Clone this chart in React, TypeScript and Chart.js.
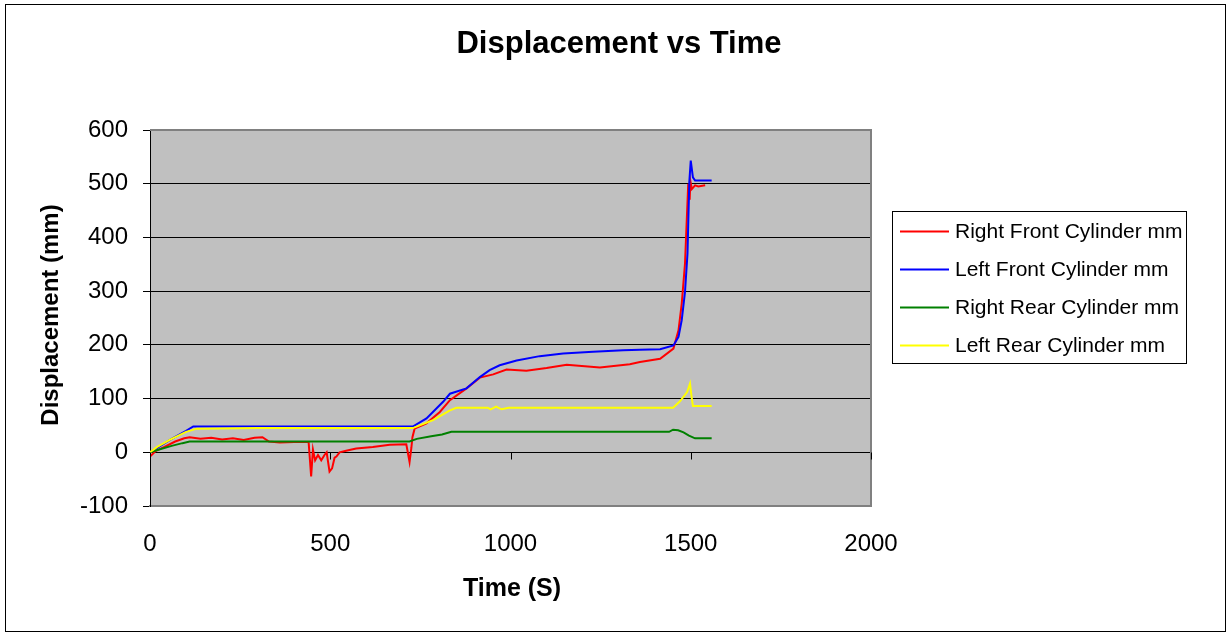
import React, { useEffect, useRef } from "react";
import { Chart, registerables } from "chart.js";

Chart.register(...registerables);

const W = 1231;
const H = 636;

const seriesNames = [
  "Right Front Cylinder mm",
  "Left Front Cylinder mm",
  "Right Rear Cylinder mm",
  "Left Rear Cylinder mm",
];
const seriesColors = ["#FF0000", "#0000FF", "#008000", "#FFFF00"];

const xTickValues = [0, 500, 1000, 1500, 2000];
const yTickValues = [-100, 0, 100, 200, 300, 400, 500, 600];

const rightFrontTime = [
  0, 15, 40, 70, 95, 110, 140, 170, 200, 230, 260, 290, 312, 330, 360, 400, 440,
  447, 452, 458, 466, 475, 484, 490, 498, 505, 512, 517, 526, 544, 572, 618, 665,
  711, 720, 725, 728, 734, 767, 804, 832, 878, 915, 952, 989, 1044, 1100, 1156,
  1248, 1331, 1359, 1415, 1452, 1466, 1475, 1484, 1493, 1497, 1499, 1503, 1512,
  1521, 1540, 1558,
];
const rightFrontValues = [
  -8, 2, 10, 20, 26, 28, 25, 27, 24, 26, 23, 27, 28, 20, 18, 19, 19,
  -45, 5, -15, -5, -15, -5, 0, -36, -30, -10, -8, 0, 3, 7, 10, 14,
  15, -18, 8, 28, 44, 54, 75, 97, 119, 139, 145, 154, 152, 157, 163,
  158, 164, 168, 174, 193, 227, 277, 351, 500, 470, 505, 490, 497, 495, 497,
];

const leftFrontTime = [
  0, 20, 60, 100, 120, 400, 729, 767, 813, 832, 878, 915, 942, 970, 1017, 1081,
  1146, 1229, 1313, 1359, 1415, 1452, 1466, 1475, 1484, 1491, 1496, 1500, 1506,
  1512, 1558,
];
const leftFrontValues = [
  0, 8, 25, 40, 48, 48, 48, 63, 94, 109, 119, 140, 153, 162, 171, 179,
  184, 187, 190, 191, 192, 199, 215, 246, 298, 370, 503, 543, 512,
  506, 506,
];

const rightRearTime = [
  0, 30, 60, 90, 110, 300, 720, 740, 780, 810, 836, 1000, 1440, 1451, 1465, 1480,
  1495, 1512, 1558,
];
const rightRearValues = [
  0, 6, 12, 17, 20, 20, 20, 25, 30, 33, 38, 38, 38, 42, 41, 37,
  31, 26, 26,
];

const leftRearTime = [
  0, 20, 60, 100, 130, 300, 729, 785, 832, 850, 937, 945, 960, 975, 995, 1451,
  1470, 1490, 1498, 1502, 1506, 1558,
];
const leftRearValues = [
  0, 10, 25, 38, 44, 45, 45, 60, 78, 83, 83, 80, 85, 80, 83, 83,
  95, 112, 128, 105, 86, 86,
];

const seriesTimes = [rightFrontTime, leftFrontTime, rightRearTime, leftRearTime];
const seriesValues = [rightFrontValues, leftFrontValues, rightRearValues, leftRearValues];

const FONT = "'Liberation Sans', Arial, sans-serif";

const decorPlugin = {
  id: "decor",
  beforeDraw(chart: any) {
    const ctx = chart.ctx;
    const a = chart.chartArea;
    ctx.save();
    ctx.fillStyle = "#FFFFFF";
    ctx.fillRect(0, 0, W, H);
    ctx.strokeStyle = "#000000";
    ctx.lineWidth = 1;
    ctx.strokeRect(5.5, 4.5, 1220, 627);
    ctx.fillStyle = "#C0C0C0";
    ctx.fillRect(a.left, a.top, a.right - a.left, a.bottom - a.top);
    ctx.restore();
  },
  afterDraw(chart: any) {
    const ctx = chart.ctx;
    const a = chart.chartArea;
    const xs = chart.scales.x;
    const ys = chart.scales.y;
    ctx.save();
    ctx.strokeStyle = "#808080";
    ctx.lineWidth = 2;
    ctx.beginPath();
    ctx.moveTo(a.left, a.top);
    ctx.lineTo(a.right, a.top);
    ctx.lineTo(a.right, a.bottom);
    ctx.stroke();
    const y0 = Math.round(ys.getPixelForValue(0)) + 0.5;
    ctx.strokeStyle = "#000000";
    ctx.lineWidth = 1;
    ctx.beginPath();
    for (const v of xTickValues) {
      const px = Math.round(xs.getPixelForValue(v)) + 0.5;
      ctx.moveTo(px, y0);
      ctx.lineTo(px, y0 + 7);
    }
    ctx.stroke();
    ctx.fillStyle = "#000000";
    ctx.textAlign = "center";
    ctx.textBaseline = "middle";
    ctx.font = `bold 31px ${FONT}`;
    ctx.fillText("Displacement vs Time", 619, 44);
    ctx.font = `bold 25px ${FONT}`;
    ctx.fillText("Time (S)", 512, 589);
    ctx.save();
    ctx.translate(51, 315);
    ctx.rotate(-Math.PI / 2);
    ctx.font = `bold 24px ${FONT}`;
    ctx.fillText("Displacement (mm)", 0, 0);
    ctx.restore();
    ctx.strokeStyle = "#000000";
    ctx.lineWidth = 1;
    ctx.strokeRect(892.5, 211.5, 294, 152);
    const rows = [231.5, 269.5, 307.5, 345.5];
    ctx.font = `21px ${FONT}`;
    ctx.textAlign = "left";
    for (let i = 0; i < seriesNames.length; i++) {
      ctx.strokeStyle = seriesColors[i];
      ctx.lineWidth = 2;
      ctx.beginPath();
      ctx.moveTo(900, rows[i]);
      ctx.lineTo(949, rows[i]);
      ctx.stroke();
      ctx.fillStyle = "#000000";
      ctx.fillText(seriesNames[i], 955, rows[i] + 1);
    }
    ctx.restore();
  },
};

export default function App() {
  const ref = useRef<HTMLCanvasElement>(null);
  useEffect(() => {
    document.body.style.margin = "0";
    const datasets = seriesNames.map((name, i) => ({
      label: name,
      data: seriesTimes[i].map((t, j) => ({ x: t, y: seriesValues[i][j] })),
      borderColor: seriesColors[i],
      backgroundColor: seriesColors[i],
      borderWidth: 2,
      pointRadius: 0,
      showLine: true,
      tension: 0,
      order: seriesNames.length - i,
    }));
    const chart = new Chart(ref.current as HTMLCanvasElement, {
      type: "scatter",
      data: { datasets },
      plugins: [decorPlugin],
      options: {
        responsive: false,
        animation: false,
        layout: { padding: { left: 0, top: 130, right: 360, bottom: 0 } },
        plugins: {
          legend: { display: false },
          title: { display: false },
          tooltip: { enabled: false },
        },
        scales: {
          x: {
            type: "linear",
            min: 0,
            max: 2000,
            afterBuildTicks: (s: any) => {
              s.ticks = xTickValues.map((v) => ({ value: v }));
            },
            afterFit: (s: any) => {
              s.height = 130;
            },
            ticks: {
              padding: 24,
              color: "#000000",
              font: { family: FONT, size: 24 },
              maxRotation: 0,
              autoSkip: false,
              callback: (v: any) => String(v),
            },
            grid: { drawOnChartArea: false, drawTicks: false },
            border: { color: "#808080", width: 2 },
          },
          y: {
            type: "linear",
            min: -100,
            max: 600,
            afterBuildTicks: (s: any) => {
              s.ticks = yTickValues.map((v) => ({ value: v }));
            },
            afterFit: (s: any) => {
              s.width = 150;
            },
            ticks: {
              padding: 15,
              color: "#000000",
              font: { family: FONT, size: 24 },
              callback: (v: any) => String(v),
            },
            grid: { color: "#000000", lineWidth: 1, tickLength: 7 },
            border: { color: "#000000", width: 1 },
          },
        },
      },
    });
    return () => chart.destroy();
  }, []);
  return <canvas ref={ref} width={W} height={H} style={{ display: "block" }} />;
}
